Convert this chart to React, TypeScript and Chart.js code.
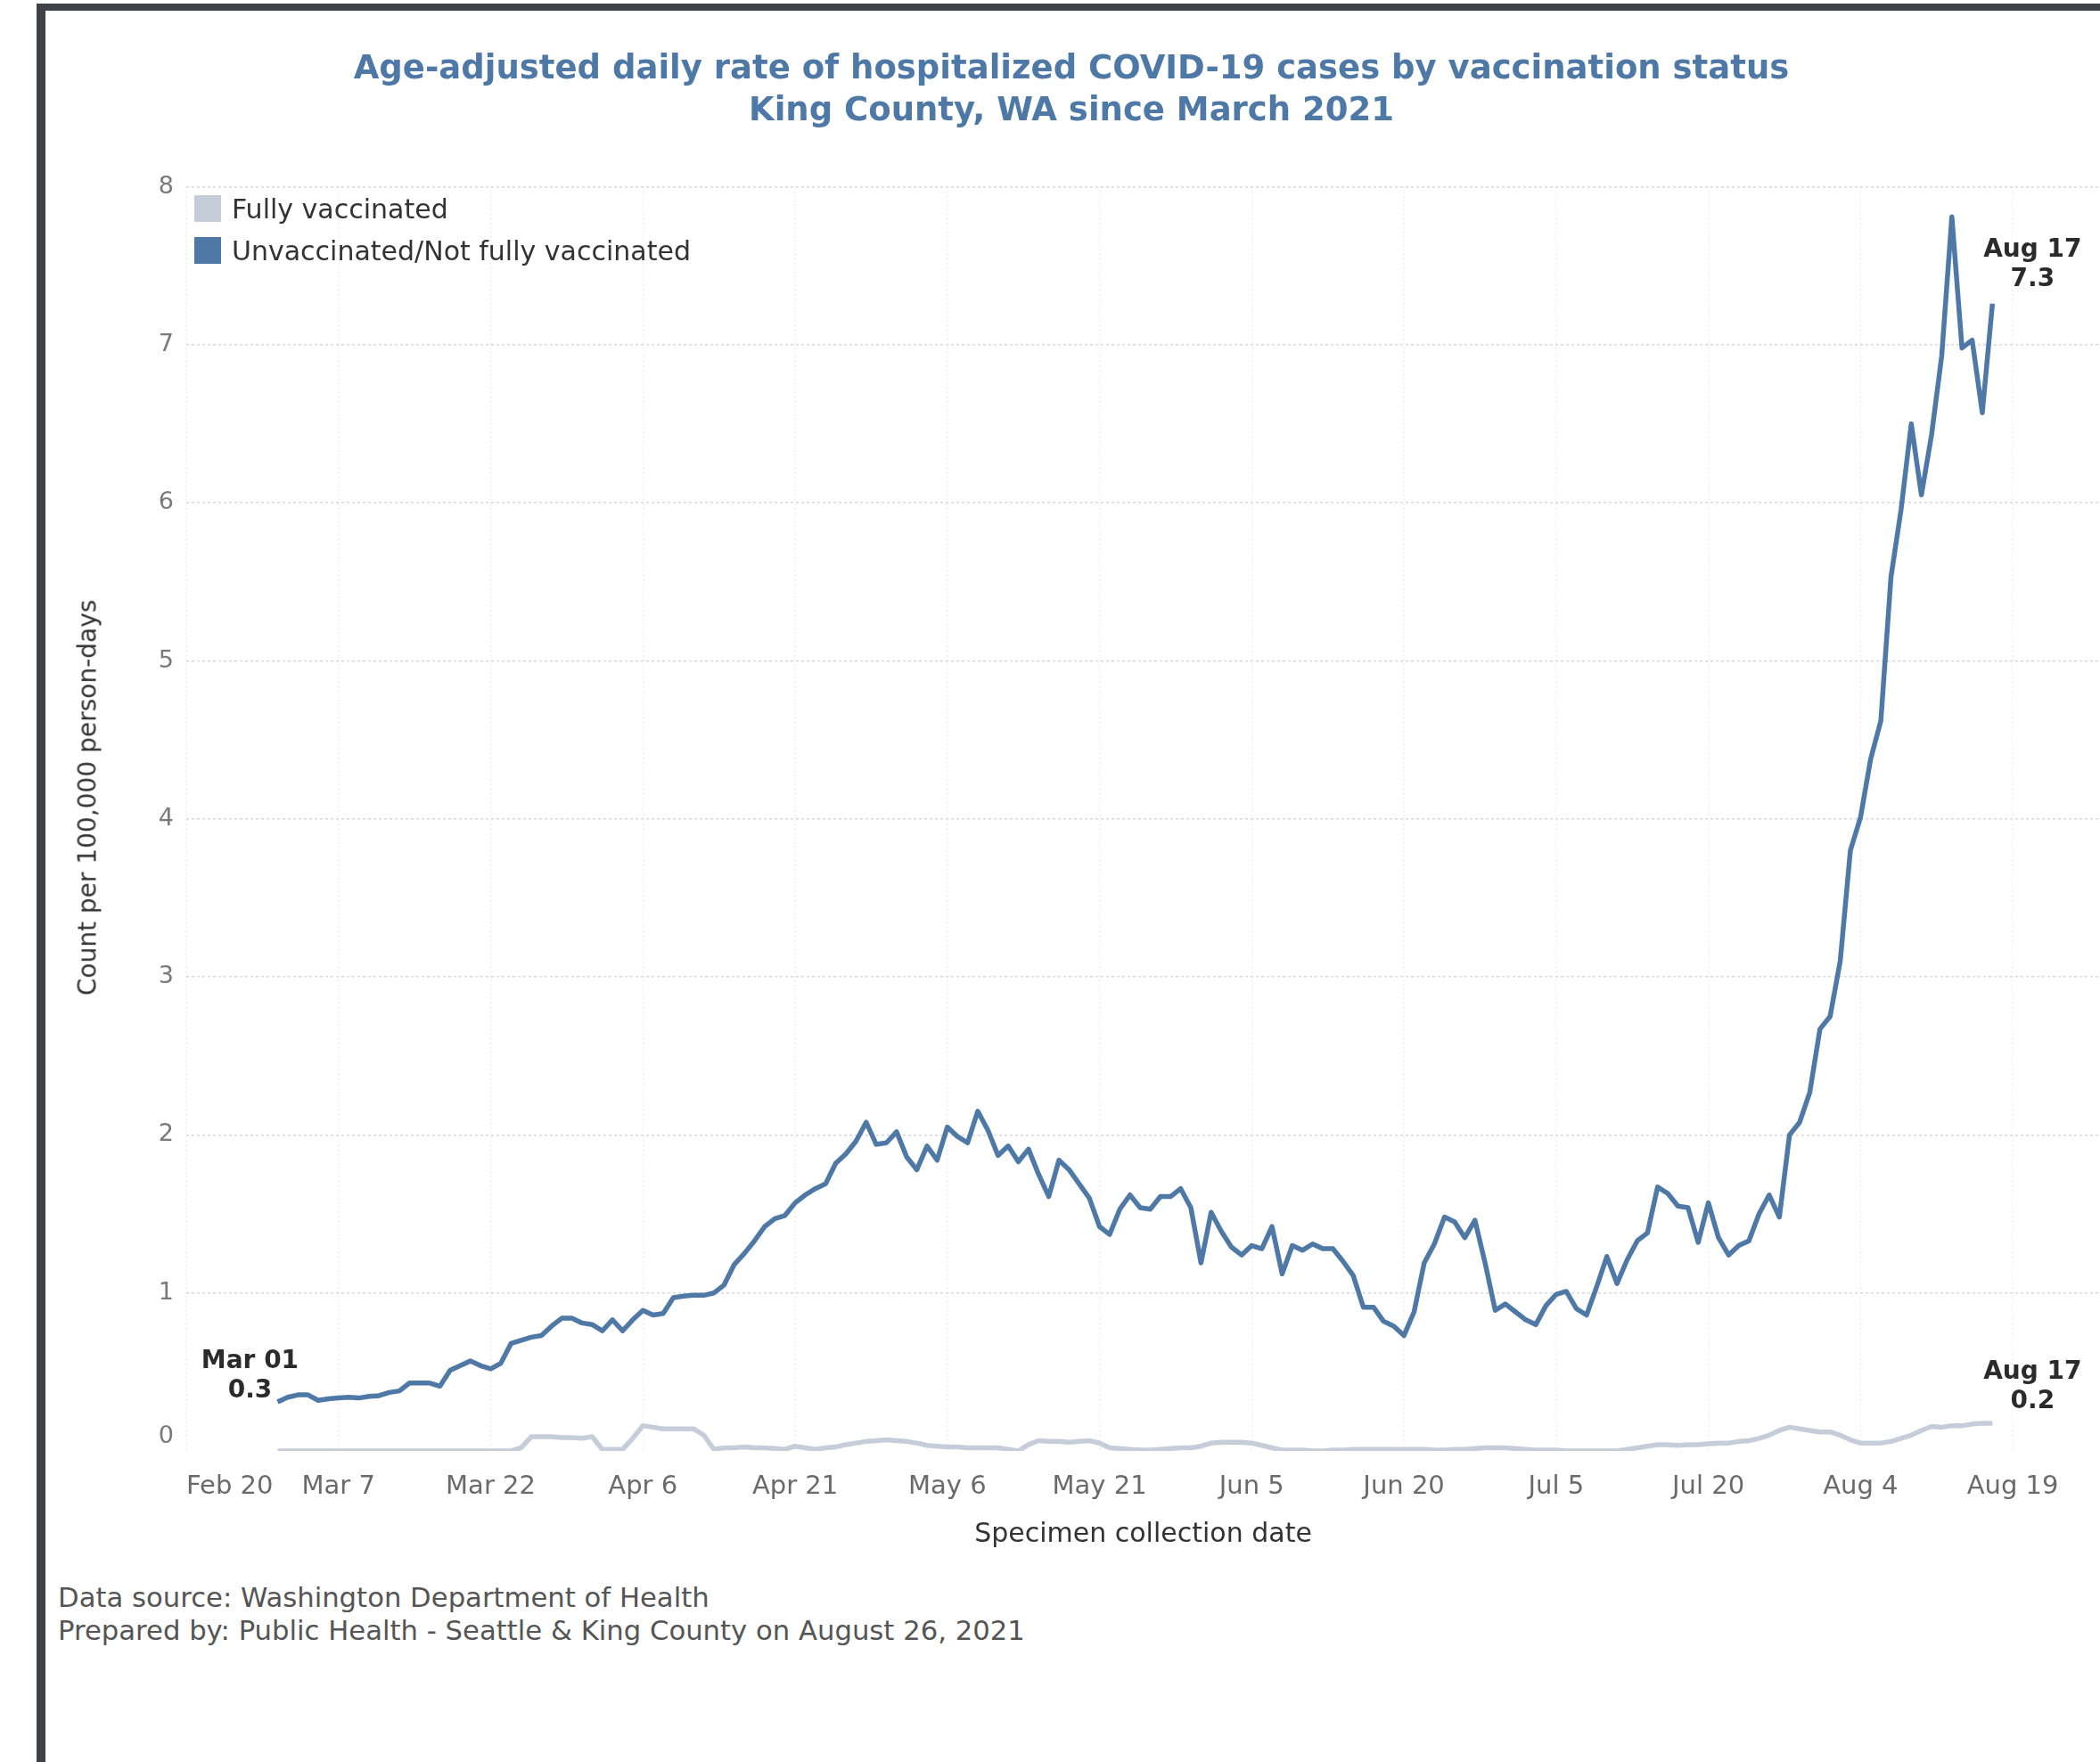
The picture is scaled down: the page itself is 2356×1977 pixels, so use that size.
import React, { useEffect, useRef } from "react";
import { Chart, registerables } from "chart.js";

Chart.register(...registerables);

// ---------- Data ----------
const START_DATE_UTC = Date.UTC(2021, 2, 1); // Mar 1, 2021 = day 0
const MONTHS = ["Jan", "Feb", "Mar", "Apr", "May", "Jun", "Jul", "Aug", "Sep", "Oct", "Nov", "Dec"];

const SERIES_NAMES = ["Fully vaccinated", "Unvaccinated/Not fully vaccinated"];

// Daily age-adjusted rate, Unvaccinated / not fully vaccinated (Mar 1 .. Aug 17)
const UNVACCINATED = [
  0.31, 0.34, 0.355, 0.355, 0.32, 0.33, 0.335, 0.34, 0.335, 0.345,
  0.35, 0.37, 0.38, 0.43, 0.43, 0.43, 0.41, 0.51, 0.54, 0.57,
  0.54, 0.52, 0.555, 0.68, 0.7, 0.72, 0.73, 0.79, 0.84, 0.84,
  0.81, 0.8, 0.76, 0.83, 0.76, 0.83, 0.89, 0.86, 0.87, 0.97,
  0.98, 0.985, 0.985, 1.0, 1.05, 1.18, 1.25, 1.33, 1.42, 1.47,
  1.49, 1.57, 1.62, 1.66, 1.69, 1.82, 1.88, 1.96, 2.08, 1.94,
  1.95, 2.02, 1.86, 1.78, 1.93, 1.84, 2.05, 1.99, 1.95, 2.15,
  2.03, 1.87, 1.93, 1.83, 1.91, 1.75, 1.61, 1.84, 1.78, 1.69,
  1.6, 1.42, 1.37, 1.53, 1.62, 1.54, 1.53, 1.61, 1.61, 1.66,
  1.54, 1.19, 1.51, 1.39, 1.29, 1.24, 1.3, 1.28, 1.42, 1.12,
  1.3, 1.27, 1.31, 1.28, 1.28, 1.2, 1.11, 0.91, 0.91, 0.82,
  0.79, 0.73, 0.88, 1.19, 1.31, 1.48, 1.45, 1.35, 1.46, 1.19,
  0.89, 0.93, 0.88, 0.83, 0.8, 0.92, 0.99, 1.01, 0.9, 0.86,
  1.04, 1.23, 1.06, 1.21, 1.33, 1.38, 1.67, 1.63, 1.55, 1.54,
  1.32, 1.57, 1.35, 1.24, 1.3, 1.33, 1.5, 1.62, 1.48, 2.0,
  2.08, 2.27, 2.67, 2.75, 3.1, 3.8, 4.01, 4.38, 4.62, 5.53,
  5.96, 6.5, 6.05, 6.43, 6.93, 7.81, 6.98, 7.03, 6.57, 7.26,
];

// Daily age-adjusted rate, Fully vaccinated (Mar 1 .. Aug 17)
const FULLY_VACCINATED = [
  0, 0, 0, 0, 0, 0, 0, 0, 0, 0,
  0, 0, 0, 0, 0, 0, 0, 0, 0, 0,
  0, 0, 0, 0, 0.02, 0.09, 0.09, 0.09, 0.085, 0.085,
  0.08, 0.09, 0.01, 0.01, 0.01, 0.08, 0.16, 0.15, 0.14, 0.14,
  0.14, 0.14, 0.1, 0.01, 0.02, 0.02, 0.025, 0.02, 0.02, 0.015,
  0.01, 0.03, 0.02, 0.01, 0.02, 0.025, 0.04, 0.05, 0.06, 0.065,
  0.07, 0.065, 0.06, 0.05, 0.035, 0.03, 0.025, 0.025, 0.02, 0.02,
  0.02, 0.02, 0.01, 0.0, 0.04, 0.065, 0.06, 0.06, 0.055, 0.06,
  0.065, 0.05, 0.02, 0.015, 0.01, 0.005, 0.005, 0.01, 0.015, 0.02,
  0.02, 0.03, 0.05, 0.055, 0.055, 0.055, 0.05, 0.035, 0.02, 0.005,
  0.005, 0.005, 0.0, 0.0, 0.005, 0.005, 0.01, 0.01, 0.01, 0.01,
  0.01, 0.01, 0.01, 0.01, 0.005, 0.005, 0.01, 0.01, 0.015, 0.02,
  0.02, 0.02, 0.015, 0.01, 0.005, 0.005, 0.005, 0.0, 0.0, 0.0,
  0.0, 0.0, 0.0, 0.01, 0.02, 0.03, 0.04, 0.04, 0.035, 0.04,
  0.04, 0.045, 0.05, 0.05, 0.06, 0.065, 0.08, 0.1, 0.13, 0.15,
  0.14, 0.13, 0.12, 0.12, 0.1, 0.07, 0.05, 0.05, 0.05, 0.06,
  0.08, 0.1, 0.13, 0.155, 0.15, 0.16, 0.16, 0.17, 0.175, 0.175,
];

// x-axis ticks (days relative to Mar 1, 2021)
const TICK_DAYS = [-9, 6, 21, 36, 51, 66, 81, 96, 111, 126, 141, 156, 171];
const TICK_LABELS = ["Feb 20", "Mar 7", "Mar 22", "Apr 6", "Apr 21", "May 6", "May 21", "Jun 5", "Jun 20", "Jul 5", "Jul 20", "Aug 4", "Aug 19"];
const X_MIN = -9;
const X_MAX = 179.6;
const Y_MIN = 0;
const Y_MAX = 8;

const TITLE_LINES = [
  "Age-adjusted daily rate of hospitalized COVID-19 cases by vaccination status",
  "King County, WA since March 2021",
];
const X_TITLE = "Specimen collection date";
const Y_TITLE = "Count per 100,000 person-days";
const FOOTER_LINES = [
  "Data source: Washington Department of Health",
  "Prepared by: Public Health - Seattle & King County on August 26, 2021",
];

// ---------- Styles ----------
const FONT = '"DejaVu Sans", Verdana, sans-serif';
const BLUE = "#4e79a7";
const LIGHT = "#c5cdd9";
const FRAME = "#404249";

function dayLabel(day: number): string {
  const d = new Date(START_DATE_UTC + day * 86400000);
  const dd = String(d.getUTCDate()).padStart(2, "0");
  return `${MONTHS[d.getUTCMonth()]} ${dd}`;
}

const pointLabels = {
  id: "pointLabels",
  afterDatasetsDraw(chart: any) {
    const ctx = chart.ctx;
    const specs = [
      { ds: 0, first: true, dx: -31, dy1: -45, dy2: -12 },
      { ds: 0, first: false, dx: 45, dy1: -60, dy2: -27 },
      { ds: 1, first: false, dx: 45, dy1: -57, dy2: -24 },
    ];
    ctx.save();
    ctx.font = `bold 28px ${FONT}`;
    ctx.fillStyle = "#2b2b2b";
    ctx.textAlign = "center";
    ctx.textBaseline = "middle";
    for (const s of specs) {
      const ds = chart.data.datasets[s.ds];
      const idx = s.first ? 0 : ds.data.length - 1;
      const pt = chart.getDatasetMeta(s.ds).data[idx];
      const raw = ds.data[idx];
      ctx.fillText(dayLabel(raw.x), pt.x + s.dx, pt.y + s.dy1);
      ctx.fillText(raw.y.toFixed(1), pt.x + s.dx, pt.y + s.dy2);
    }
    ctx.restore();
  },
};

export default function App() {
  const canvasRef = useRef<HTMLCanvasElement>(null);

  useEffect(() => {
    const canvas = canvasRef.current;
    if (!canvas) return;
    Chart.defaults.font.family = FONT;
    const extraTick = 176;
    const chart = new Chart(canvas, {
      type: "line",
      data: {
        datasets: [
          {
            label: SERIES_NAMES[1],
            data: UNVACCINATED.map((y, i) => ({ x: i, y })),
            borderColor: BLUE,
            backgroundColor: BLUE,
            borderWidth: 5.5,
            pointRadius: 0,
            tension: 0,
            borderJoinStyle: "round",
          },
          {
            label: SERIES_NAMES[0],
            data: FULLY_VACCINATED.map((y, i) => ({ x: i, y })),
            borderColor: LIGHT,
            backgroundColor: LIGHT,
            borderWidth: 5.5,
            pointRadius: 0,
            tension: 0,
            borderJoinStyle: "round",
          },
        ],
      },
      options: {
        responsive: false,
        animation: false,
        devicePixelRatio: 1,
        layout: { padding: { top: 209.6, left: 0, right: 0, bottom: 0 } },
        plugins: {
          legend: { display: false },
          title: { display: false },
          tooltip: { enabled: false },
        },
        scales: {
          x: {
            type: "linear",
            min: X_MIN,
            max: X_MAX,
            afterFit: (s: any) => {
              s.height = 112;
            },
            afterBuildTicks: (s: any) => {
              s.ticks = [...TICK_DAYS, extraTick].map((v) => ({ value: v }));
            },
            ticks: {
              autoSkip: false,
              maxRotation: 0,
              minRotation: 0,
              align: "inner",
              padding: 23,
              color: "#6a6a6a",
              font: { size: 29 },
              callback: (_v: any, i: number) => TICK_LABELS[i] ?? "",
            },
            grid: {
              color: (c: any) => (c.index < TICK_LABELS.length ? "#ededed" : "rgba(0,0,0,0)"),
              lineWidth: 1.5,
              drawTicks: false,
            },
            border: { display: false, dash: [2, 3] },
            title: {
              display: true,
              text: X_TITLE,
              color: "#333333",
              font: { size: 30 },
              padding: { top: 0, bottom: 0 },
            },
          },
          y: {
            min: Y_MIN,
            max: Y_MAX,
            afterFit: (s: any) => {
              s.width = 209;
            },
            ticks: {
              stepSize: 1,
              padding: 14,
              color: "#7a7a7a",
              font: { size: 27 },
              // the zero label sits slightly above its gridline in the original
              callback: (v: any) => (v === 0 ? ["0", ""] : String(v)),
            },
            grid: {
              color: (c: any) => (c.tick && c.tick.value === 0 ? "rgba(0,0,0,0)" : "#d8d8d8"),
              lineWidth: 1.5,
              drawTicks: false,
            },
            border: { display: false, dash: [3, 3] },
          },
        },
      },
      plugins: [pointLabels],
    } as any);
    return () => chart.destroy();
  }, []);

  return (
    <div
      style={{
        position: "absolute",
        left: 0,
        top: 0,
        width: 2356,
        height: 1977,
        overflow: "hidden",
        background: "#ffffff",
        fontFamily: FONT,
      }}
    >
      <canvas
        ref={canvasRef}
        width={2356}
        height={1740}
        style={{ position: "absolute", left: 0, top: 0, display: "block" }}
      />
      {/* Title */}
      <div
        style={{
          position: "absolute",
          left: 0,
          top: 51.5,
          width: 2404,
          textAlign: "center",
          fontWeight: "bold",
          fontSize: 37,
          lineHeight: "47px",
          color: BLUE,
          whiteSpace: "nowrap",
        }}
      >
        {TITLE_LINES.map((t) => (
          <div key={t}>{t}</div>
        ))}
      </div>
      {/* Legend */}
      {[LIGHT, BLUE].map((c, i) => (
        <div
          key={i}
          style={{
            position: "absolute",
            left: 218,
            top: 214 + i * 47,
            height: 40,
            display: "flex",
            alignItems: "center",
            fontSize: 30,
            color: "#333333",
            whiteSpace: "nowrap",
          }}
        >
          <div style={{ width: 30, height: 30, background: c, marginRight: 12 }} />
          <span>{SERIES_NAMES[i]}</span>
        </div>
      ))}
      {/* Y-axis title */}
      <div
        style={{
          position: "absolute",
          left: 98,
          top: 895,
          transform: "translate(-50%, -50%) rotate(-90deg)",
          fontSize: 28,
          color: "#333333",
          whiteSpace: "nowrap",
        }}
      >
        {Y_TITLE}
      </div>
      {/* Footer */}
      <div
        style={{
          position: "absolute",
          left: 65,
          top: 1774,
          fontSize: 30.7,
          lineHeight: "37px",
          color: "#555555",
          whiteSpace: "nowrap",
        }}
      >
        {FOOTER_LINES.map((t) => (
          <div key={t}>{t}</div>
        ))}
      </div>
      {/* Frame */}
      <div style={{ position: "absolute", left: 41, top: 4, width: 2315, height: 8, background: FRAME }} />
      <div style={{ position: "absolute", left: 41, top: 4, width: 10, height: 1973, background: FRAME }} />
    </div>
  );
}
